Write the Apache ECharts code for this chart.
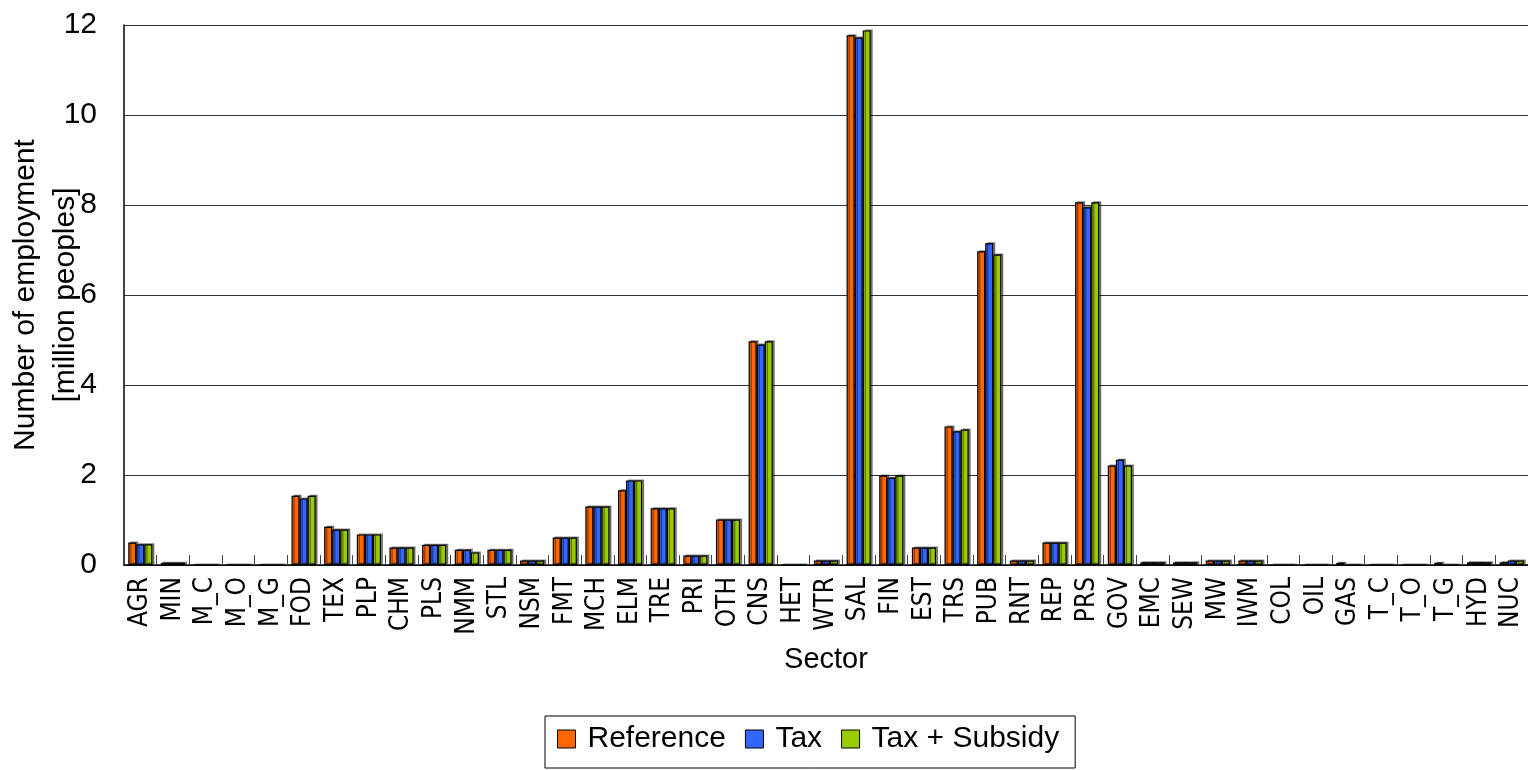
<!DOCTYPE html>
<html><head><meta charset="utf-8">
<script src="https://cdn.jsdelivr.net/npm/echarts@6/dist/echarts.min.js"></script>
<style>html,body{margin:0;padding:0;background:#fff;}#c{width:1528px;height:770px;}</style>
</head><body><div id="c"></div>
<script>
const categories = ['AGR','MIN','M_C','M_O','M_G','FOD','TEX','PLP','CHM','PLS','NMM','STL','NSM','FMT','MCH','ELM','TRE','PRI','OTH','CNS','HET','WTR','SAL','FIN','EST','TRS','PUB','RNT','REP','PRS','GOV','EMC','SEW','MW','IWM','COL','OIL','GAS','T_C','T_O','T_G','HYD','NUC'];
const reference =   [0.50,0.05,0,0,0,1.54,0.85,0.68,0.39,0.45,0.34,0.34,0.10,0.61,1.30,1.66,1.26,0.21,1.01,4.97,0,0.10,11.77,1.99,0.39,3.08,6.97,0.10,0.50,8.06,2.21,0.06,0.06,0.10,0.10,0,0,0.05,0,0,0.05,0.06,0.06];
const tax =         [0.46,0.05,0,0,0,1.48,0.79,0.68,0.39,0.45,0.34,0.34,0.10,0.61,1.30,1.88,1.26,0.21,1.01,4.90,0,0.10,11.72,1.94,0.39,2.97,7.15,0.10,0.50,7.95,2.34,0.06,0.06,0.10,0.10,0,0,0,0,0,0,0.06,0.10];
const taxSubsidy =  [0.46,0.05,0,0,0,1.54,0.79,0.68,0.39,0.45,0.28,0.34,0.10,0.61,1.30,1.88,1.26,0.21,1.01,4.97,0,0.10,11.88,1.99,0.39,3.01,6.90,0.10,0.50,8.06,2.21,0.06,0.06,0.10,0.10,0,0,0,0,0,0,0.06,0.10];
const seriesNames = ['Reference','Tax','Tax + Subsidy'];
const yTicks = [0,2,4,6,8,10,12];

const font = 'Liberation Sans, Arial, sans-serif';
const narrowFont = '"Liberation Sans Narrow", "DejaVu Sans Condensed", "Liberation Sans", sans-serif';
const colors = ['#FF6600','#3366FF','#99CC00'];
const chart = echarts.init(document.getElementById('c'));
function mk(name, data, color){
  return {
    name, type:'bar', data,
    barGap:'0%', barCategoryGap:'26%',
    itemStyle:{color, borderColor:'#000', borderWidth:1.2,
      shadowColor:'rgba(0,0,0,0.45)', shadowOffsetX:2, shadowOffsetY:-1, shadowBlur:0},
    emphasis:{disabled:true}
  };
}
chart.setOption({
  animation:false,
  textStyle:{fontFamily:font},
  grid:{left:124, right:0, top:25, bottom:205, containLabel:false, outerBoundsMode:'none'},
  legend:{
    left:545, top:716, data:seriesNames,
    icon:'rect', itemWidth:18, itemHeight:18, itemGap:19,
    borderColor:'#000', borderWidth:1, borderRadius:0, padding:[8,16,14,12],
    textStyle:{fontSize:30, color:'#000', fontFamily:font, padding:[0,0,0,7]},
    itemStyle:{borderColor:'#000', borderWidth:1}
  },
  xAxis:{
    type:'category', data:categories,
    name:'Sector', nameLocation:'middle', nameGap:80, nameMoveOverlap:false,
    nameTextStyle:{fontSize:29, color:'#000', fontFamily:font},
    axisLine:{lineStyle:{color:'#000', width:1.5}},
    axisTick:{show:true, inside:true, length:10, alignWithLabel:false, lineStyle:{color:'#444'}},
    axisLabel:{rotate:90, fontSize:26, color:'#000', margin:12, interval:0, fontFamily:narrowFont}
  },
  yAxis:{
    type:'value', min:0, max:12, interval:2,
    name:'Number of employment\n[million peoples]', nameLocation:'middle', nameGap:38, nameRotate:90,
    nameMoveOverlap:false,
    nameTextStyle:{fontSize:30, color:'#000', lineHeight:40, fontFamily:font},
    axisLine:{show:true, lineStyle:{color:'#000', width:1.5}},
    axisTick:{show:false},
    splitLine:{lineStyle:{color:'#333', width:1.2}},
    axisLabel:{fontSize:30, color:'#000', margin:27, fontFamily:font,
      formatter:v=> yTicks.includes(v)? String(v):''}
  },
  series:[mk(seriesNames[0], reference, colors[0]), mk(seriesNames[1], tax, colors[1]), mk(seriesNames[2], taxSubsidy, colors[2])]
});
</script></body></html>
